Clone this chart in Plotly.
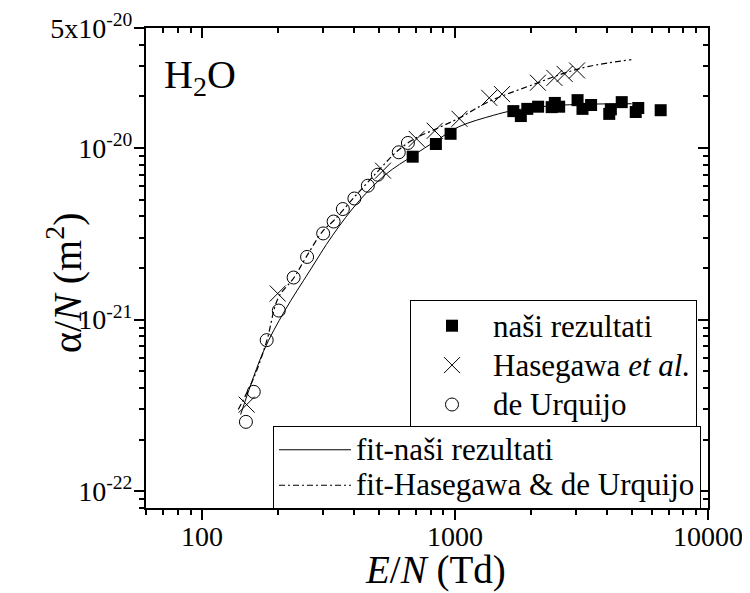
import math
import plotly.graph_objects as go

# ---- data ----
nasi_E = [680, 840, 960, 1700, 1820, 1930, 2130, 2410, 2480, 2580, 3050, 3190,
          3450, 4070, 4130, 4560, 5180, 5300, 6500]
nasi_alpha = [8.9e-21, 1.055e-20, 1.21e-20, 1.64e-20, 1.535e-20, 1.69e-20, 1.74e-20,
              1.73e-20, 1.83e-20, 1.74e-20, 1.90e-20, 1.69e-20, 1.78e-20, 1.58e-20,
              1.68e-20, 1.85e-20, 1.62e-20, 1.71e-20, 1.66e-20]

hase_E = [150, 199, 519, 705, 831, 1041, 1365, 1533, 2126, 2470, 2712, 3036]
hase_alpha = [3.2e-22, 1.42e-21, 7.38e-21, 1.13e-20, 1.26e-20, 1.48e-20, 1.96e-20,
              2.06e-20, 2.40e-20, 2.56e-20, 2.70e-20, 2.83e-20]

urq_E = [149, 160, 180, 201, 230, 260, 301, 331, 360, 400, 452, 495, 599, 651]
urq_alpha = [2.54e-22, 3.8e-22, 7.6e-22, 1.13e-21, 1.76e-21, 2.32e-21, 3.18e-21,
             3.73e-21, 4.41e-21, 5.08e-21, 6.03e-21, 6.99e-21, 9.44e-21, 1.07e-20]

fit_nasi_E = [142, 175, 212, 266, 327, 418, 534, 681, 840, 1035, 1418, 1687, 2393, 3388, 4990]
fit_nasi_alpha = [2.8e-22, 6.56e-22, 1.125e-21, 1.92e-21, 3.08e-21, 4.93e-21, 7.05e-21,
                  9.02e-21, 1.10e-20, 1.33e-20, 1.55e-20, 1.65e-20, 1.76e-20, 1.80e-20, 1.81e-20]

fit_hu_E = [139, 160, 180, 200, 231, 258, 301, 331, 404, 498, 593, 705, 839, 1043,
            1368, 2080, 2703, 3388, 4977]
fit_hu_alpha = [3.0e-22, 4.58e-22, 7.5e-22, 1.34e-21, 1.76e-21, 2.32e-21, 3.30e-21,
                3.77e-21, 5.27e-21, 7.38e-21, 9.64e-21, 1.15e-20, 1.29e-20, 1.50e-20,
                1.87e-20, 2.37e-20, 2.73e-20, 2.99e-20, 3.27e-20]

x_tickvals = [100, 1000, 10000]
x_ticktext = ["100", "1000", "10000"]
y_tickvals = [1e-22, 1e-21, 1e-20, 5e-20]
y_ticktext = ["10<sup>-22</sup>", "10<sup>-21</sup>", "10<sup>-20</sup>", "5x10<sup>-20</sup>"]

x_minor = [m * 10 ** e for e in (1, 2, 3) for m in range(2, 10)]
y_minor = [m * 10 ** e for e in (-23, -22, -21, -20) for m in range(2, 10)]

x_range = [math.log10(60), 4.0]
y_range = [math.log10(8e-23), math.log10(5e-20) + 1e-6]

FONT = "Liberation Serif"

# page offset of the figure (browser default body margin)
OFF = 8
# plot area in screen pixels
L, R, T, B = 146, 708, 28, 508
PW, PH = R - L, B - T
W, H = 750 - OFF, 593 - OFF


def px(x):
    return (x - L) / PW


def py(y):
    return (B - y) / PH


def big(s, size=31):
    return "<span style='font-size:%dpx'>%s</span>" % (size, s)


fig = go.Figure()

fig.add_trace(go.Scatter(
    x=fit_nasi_E, y=fit_nasi_alpha, mode="lines", name=big("fit-naši rezultati"),
    line=dict(color="black", width=1, shape="spline"), legend="legend2"))
fig.add_trace(go.Scatter(
    x=fit_hu_E, y=fit_hu_alpha, mode="lines", name=big("fit-Hasegawa &amp; de Urquijo"),
    line=dict(color="black", width=1.2, dash="6px,3px,2px,3px", shape="spline"),
    legend="legend2"))

fig.add_trace(go.Scatter(
    x=nasi_E, y=nasi_alpha, mode="markers", name=big("naši rezultati"),
    marker=dict(symbol="square", size=12, color="black",
                line=dict(color="black", width=0)), legend="legend"))
fig.add_trace(go.Scatter(
    x=hase_E, y=hase_alpha, mode="markers", name=big("Hasegawa <i>et al.</i>"),
    marker=dict(symbol="x-thin-open", size=16, color="black",
                line=dict(color="black", width=1)), legend="legend"))
fig.add_trace(go.Scatter(
    x=urq_E, y=urq_alpha, mode="markers", name=big("de Urquijo"),
    marker=dict(symbol="circle-open", size=13, color="black",
                line=dict(color="black", width=1)), legend="legend"))

# empty trace so the mirrored (top/right) axes are drawn
fig.add_trace(go.Scatter(x=[], y=[], xaxis="x2", yaxis="y2", showlegend=False,
                         hoverinfo="skip"))

axis_common = dict(showgrid=False, zeroline=False, showline=True, linecolor="black",
                   linewidth=2, tickwidth=1.5, tickcolor="black", automargin=False)

fig.update_layout(
    width=W, height=H,
    margin=dict(l=L - OFF, r=750 - R, t=T - OFF, b=593 - B),
    paper_bgcolor="white", plot_bgcolor="white",
    font=dict(family=FONT, color="black", size=28),
    showlegend=True,
    xaxis=dict(
        type="log", range=x_range, ticks="outside", ticklen=10,
        tickmode="array", tickvals=x_tickvals, ticktext=x_ticktext,
        tickfont=dict(family=FONT, size=28), ticklabelstandoff=-8,
        minor=dict(tickmode="array", tickvals=x_minor, ticks="outside",
                   ticklen=5, tickwidth=1.5, tickcolor="black", showgrid=False),
        **axis_common,
    ),
    yaxis=dict(
        type="log", range=y_range, ticks="outside", ticklen=10,
        tickmode="array", tickvals=y_tickvals, ticktext=y_ticktext,
        tickfont=dict(family=FONT, size=28), ticklabelstandoff=-4,
        minor=dict(tickmode="array", tickvals=y_minor, ticks="outside",
                   ticklen=5, tickwidth=1.5, tickcolor="black", showgrid=False),
        **axis_common,
    ),
    xaxis2=dict(
        type="log", range=x_range, overlaying="x", anchor="y", side="top",
        ticks="inside", ticklen=10, tickmode="array", tickvals=x_tickvals,
        showticklabels=False,
        minor=dict(tickmode="array", tickvals=x_minor, ticks="inside",
                   ticklen=5, tickwidth=1.5, tickcolor="black", showgrid=False),
        **axis_common,
    ),
    yaxis2=dict(
        type="log", range=y_range, overlaying="y", anchor="x", side="right",
        ticks="inside", ticklen=10, tickmode="array", tickvals=y_tickvals,
        showticklabels=False,
        minor=dict(tickmode="array", tickvals=y_minor, ticks="inside",
                   ticklen=5, tickwidth=1.5, tickcolor="black", showgrid=False),
        **axis_common,
    ),
    legend=dict(
        x=px(410), y=py(300), xanchor="left", yanchor="top",
        xref="paper", yref="paper",
        bgcolor="white", bordercolor="black", borderwidth=1,
        font=dict(family=FONT, size=28), itemwidth=72, tracegroupgap=0,
    ),
    legend2=dict(
        x=px(273), y=py(426), xanchor="left", yanchor="top",
        xref="paper", yref="paper",
        bgcolor="white", bordercolor="black", borderwidth=1,
        font=dict(family=FONT, size=25), itemwidth=72, tracegroupgap=0,
    ),
    annotations=[
        dict(text="H<sub>2</sub>O", xref="paper", yref="paper",
             x=px(162), y=py(50), xanchor="left", yanchor="top",
             showarrow=False, font=dict(family=FONT, size=40, color="black")),
        dict(text="<i>E</i>/<i>N</i> (Td)", xref="paper", yref="paper",
             x=px(435), y=py(570), xanchor="center", yanchor="middle",
             showarrow=False, font=dict(family=FONT, size=39, color="black")),
        dict(text="α/<i>N</i> (m<sup>2</sup>)", xref="paper", yref="paper",
             x=px(64), y=py(283), xanchor="center", yanchor="middle", textangle=-90,
             showarrow=False, font=dict(family=FONT, size=40, color="black")),
    ],
)

fig.write_html("out.html")
